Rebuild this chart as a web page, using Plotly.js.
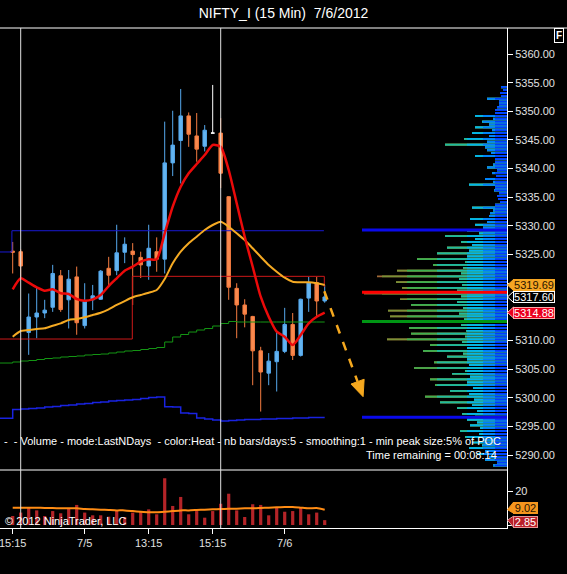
<!DOCTYPE html>
<html><head><meta charset="utf-8">
<script src="https://cdn.plot.ly/plotly-3.0.1.min.js"></script>
<style>html,body{margin:0;padding:0;background:#000;overflow:hidden}#chart{width:567px;height:574px}</style>
</head><body><div id="chart"></div>
<script>
// ---------------- DATA ----------------
const barIdx = [1,2,3,4,5,6,7,8,9,10,11,12,13,14,15,16,17,18,19,20,21,22,23,24,25,26,27,28,29,30,31,32,33,34,35,36,37,38,39,40];
const openP  = [5325.6,5325.5,5311.4,5314.1,5314.8,5315.8,5321.3,5317.1,5321.1,5312.6,5317.1,5317.2,5322.6,5322.2,5325.4,5325.6,5324.5,5323.0,5325.5,5324.2,5341.0,5344.9,5349.2,5345.7,5343.9,5346.2,5346.2,5335.1,5319.1,5316.2,5314.2,5308.2,5304.3,5306.3,5308.1,5312.8,5307.4,5317.4,5320.1,5316.9];
const highP  = [5327.2,5325.9,5318.2,5319.3,5317.1,5323.2,5322.3,5322.3,5322.9,5320.0,5319.7,5322.3,5324.6,5330.2,5328.0,5327.0,5325.5,5330.2,5328.0,5348.2,5350.1,5353.9,5349.8,5349.7,5347.6,5354.6,5348.8,5335.2,5320.0,5317.2,5314.3,5308.9,5307.8,5311.5,5315.7,5314.8,5317.3,5321.1,5321.1,5319.7];
const lowP   = [5321.7,5320.9,5307.5,5310.4,5313.9,5315.0,5315.0,5312.1,5311.0,5312.1,5315.3,5317.1,5319.4,5321.4,5323.5,5316.2,5320.9,5320.6,5322.0,5321.7,5338.7,5337.4,5343.8,5341.2,5343.0,5346.2,5336.6,5317.1,5310.4,5312.3,5302.2,5297.6,5302.2,5301.1,5307.8,5306.6,5307.2,5315.0,5314.2,5316.6];
const closeP = [5325.4,5323.0,5314.1,5314.8,5315.3,5321.7,5315.4,5320.7,5313.1,5316.8,5317.8,5322.1,5321.4,5325.3,5326.8,5325.0,5323.2,5326.1,5324.2,5341.0,5344.1,5349.2,5346.0,5343.4,5346.7,5346.2,5339.2,5319.3,5316.2,5314.6,5308.2,5304.5,5306.4,5308.1,5312.8,5307.4,5317.2,5320.1,5316.9,5317.6];

const redEMA    = [5318.94,5320.86,5320.09,5319.28,5318.69,5318.94,5318.24,5318.12,5317.24,5316.95,5317.19,5317.94,5319.51,5320.86,5322.18,5322.88,5323.75,5324.17,5324.17,5328.71,5333.35,5336.84,5339.18,5340.80,5342.37,5344.12,5343.82,5339.76,5333.94,5328.12,5322.88,5317.64,5314.15,5311.54,5310.66,5309.21,5310.96,5313.00,5314.15,5314.88];
const orangeEMA = [5310.66,5311.66,5311.83,5312.01,5312.13,5312.58,5313.00,5313.58,5313.75,5314.05,5314.45,5314.85,5315.45,5316.20,5316.89,5317.54,5317.94,5318.34,5318.81,5320.73,5323.47,5325.50,5326.96,5328.12,5329.28,5330.16,5330.73,5329.86,5328.71,5327.54,5326.09,5324.62,5323.18,5322.01,5320.96,5320.26,5320.16,5320.16,5319.98,5319.69];

// step lines (first value belongs to the bar before the visible window)
const stepIdx = [-1].concat(barIdx);
const greenLine = [5306.07,5306.25,5306.42,5306.51,5306.68,5306.86,5306.95,5307.12,5307.21,5307.30,5307.47,5307.56,5307.64,5307.82,5307.99,5308.17,5308.25,5308.43,5308.60,5308.78,5309.74,5310.61,5311.05,5311.48,5311.83,5312.09,5312.53,5312.97,5313.32,5313.23,5313.23,5313.23,5313.23,5313.23,5313.23,5313.23,5313.23,5313.23,5313.23,5313.23,5313.23];
const blueLow   = [5296.42,5297.96,5298.05,5298.13,5298.22,5298.39,5298.48,5298.66,5298.74,5298.92,5299.00,5299.18,5299.27,5299.44,5299.53,5299.62,5299.70,5299.88,5300.05,5300.14,5298.45,5298.39,5297.35,5297.26,5296.47,5296.30,5296.13,5295.95,5296.04,5296.13,5296.21,5296.21,5296.30,5296.30,5296.39,5296.39,5296.47,5296.47,5296.56,5296.56,5296.56];

// range boxes (prior levels)
const blueBoxX = [-1, 0.9, 39.9];
const blueBoxY = [5325.45, 5329.16, 5329.16];
const redBoxX  = [-1, 15.95, 39.95];
const redBoxY  = [5310.26, 5321.2, 5319.34];

// drawn arrow: start and tip
const arrowX = [39.95, 44.8];
const arrowY = [5318.6, 5300.2];

// volume panel
const volume = [5.3,7.3,10.6,8.6,5.3,8.2,6.9,9.6,11.8,7.3,5.7,5.7,4.9,8.6,4.7,7.3,7.8,9.2,6.3,27.5,11.2,16.5,6.3,8.2,4.3,8.2,12.5,18.4,8.6,4.7,12.2,11.8,5.7,10.2,7.8,8.2,10.2,6.3,7.3,2.85];
const volAvg = [10.2,10.2,10.2,10.2,10.0,10.0,9.8,9.8,9.8,9.4,9.2,9.0,8.8,8.6,8.6,8.2,7.8,7.5,7.5,7.8,8.2,8.6,8.6,8.8,9.0,9.2,9.4,9.6,9.6,9.8,9.8,10.0,10.2,10.4,10.6,10.6,10.2,9.8,10.0,9.02];

// volume profile (volume at price, arbitrary units)
const profMajorLow = 5288.2, profMinorLow = 5288.7, profStep = 1;
const profMajor = [14,22,30,38,35,42,47,37,40,45,50,67,82,57,72,77,55,93,73,60,84,77,120,96,98,100,117,119,96,107,143,105,111,130,110,74,90,70,60,46,62,40,32,37,17,35,7,10,13,38,22,15,20,12,32,20,62,43,35,32,25,32,12,8,20,7,6];
const profMinor = [10,18,22,25,24,28,27,30,32,30,35,33,38,34,40,37,42,38,40,44,40,45,42,41,46,43,48,44,50,46,50,45,48,46,44,42,40,38,35,32,28,24,20,18,14,12,9,8,12,14,11,10,14,12,16,22,20,18,15,18,14,12,10,8,6,4];
const pocPrice = 5318.4, vahPrice = 5329.3, valPrice = 5296.6, greenLevel = 5313.3;
const pocVolume = 145;

// axis ticks (labels hidden where the reference covers them with price tags)
const priceTicks = [5290,5295,5300,5305,5310,5315,5320,5325,5330,5335,5340,5345,5350,5355,5360];
const priceTickText = ['5290.00','5295.00','5300.00','5305.00','5310.00','','','5325.00','5330.00','5335.00','5340.00','5345.00','5350.00','5355.00','5360.00'];
const xTickBars = [1,10,18,26,35];
const xTickText = ['15:15','7/5','13:15','15:15','7/6'];
const sessionBreaks = [2,27];
const volTicks = [0,20];
const volTickText = ['','20'];

const lastPrice = 5317.60;

// ---------------- STYLE / LAYOUT ----------------
const FONT = 'Arial, "Liberation Sans", sans-serif';
const W=567, H=574, ML=0, MR=60, MT=28, MB=46;
const plotW = W-ML-MR, plotH = H-MT-MB;
const volFrac = 58/plotH;
const pxX = v => v/plotW;             // px -> paper x
const pxY = v => (H-MB - v)/plotH;     // page px -> paper y
const XR = [-0.5875, -0.5875+plotW/8];
const YR = [5287.40, 5364.54];
const pxPerBar = plotW/(XR[1]-XR[0]);
const pxPerPt = (plotH*(1-volFrac))/(YR[1]-YR[0]);
const Y2R = [-1.765, 32.35];
const pxPerVol = (plotH*volFrac)/(Y2R[1]-Y2R[0]);

const UP_FILL='rgb(100,180,240)', UP_LINE='rgb(85,168,236)';
const DN_FILL='rgb(250,138,78)', DN_LINE='rgb(244,124,64)';
const ARROW_C = 'rgb(245,168,30)';

const traces = [];

// volume profile segments (heat colouring by distance from axis)
const segEdges = [12,24,40,70,100,125];
const segColors = ['rgb(0,60,255)','rgb(0,125,255)','rgb(0,180,238)','rgb(30,185,160)','rgb(60,175,80)','rgb(120,145,55)','rgb(160,105,55)'];
const profPrices = profMajor.map((v,i)=>profMajorLow+i*profStep).concat(profMinor.map((v,i)=>profMinorLow+i*profStep));
const profVals = profMajor.concat(profMinor);
for (let s = segColors.length-1; s >= 0; s--) {
  traces.push({type:'bar', orientation:'h', xaxis:'x2', yaxis:'y',
    y: profPrices,
    x: profVals.map(v => s===segColors.length-1 ? v : Math.min(v, segEdges[s])),
    width: 0.3, marker:{color:segColors[s], line:{width:0}}, hoverinfo:'skip', showlegend:false});
}
// profile key levels
[[vahPrice,'rgb(10,10,235)'],[valPrice,'rgb(10,10,235)'],[pocPrice,'rgb(255,0,0)'],[greenLevel,'rgb(0,150,20)']].forEach(([p,c])=>{
  traces.push({type:'scatter', mode:'lines', xaxis:'x2', yaxis:'y', x:[pocVolume,0], y:[p,p],
    line:{color:c, width:3}, hoverinfo:'skip', showlegend:false});
});

// range boxes + step lines
traces.push({type:'scatter', mode:'lines', x:blueBoxX, y:blueBoxY, line:{color:'rgb(25,25,210)', width:1, shape:'hv'}, hoverinfo:'skip'});
traces.push({type:'scatter', mode:'lines', x:redBoxX, y:redBoxY, line:{color:'rgb(205,25,25)', width:1, shape:'hv'}, hoverinfo:'skip'});
traces.push({type:'scatter', mode:'lines', x:stepIdx, y:greenLine, line:{color:'rgb(20,150,20)', width:1, shape:'hv'}, hoverinfo:'skip'});
traces.push({type:'scatter', mode:'lines', x:stepIdx, y:blueLow, line:{color:'rgb(25,35,225)', width:1.5, shape:'hv'}, hoverinfo:'skip'});

// candles
const sel = f => barIdx.map((b,i)=>i).filter(f);
const mk = (ids, incFill, incLine, decFill, decLine) => ({
  type:'candlestick', xaxis:'x', yaxis:'y',
  x: ids.map(i=>barIdx[i]), open: ids.map(i=>openP[i]), high: ids.map(i=>highP[i]),
  low: ids.map(i=>lowP[i]), close: ids.map(i=>closeP[i]),
  increasing:{fillcolor:incFill, line:{color:incLine, width:1}},
  decreasing:{fillcolor:decFill, line:{color:decLine, width:1}},
  whiskerwidth:0, hoverinfo:'skip', showlegend:false});
traces.push(mk(sel(i=>closeP[i]>openP[i]), UP_FILL, UP_LINE, UP_FILL, UP_LINE));
traces.push(mk(sel(i=>closeP[i]<openP[i]), DN_FILL, DN_LINE, DN_FILL, DN_LINE));
traces.push(mk(sel(i=>closeP[i]===openP[i]), '#fff', '#fff', '#fff', '#fff'));

// moving averages
traces.push({type:'scatter', mode:'lines', x:barIdx, y:orangeEMA, line:{color:'rgb(245,170,35)', width:2, shape:'spline', smoothing:0.6}, hoverinfo:'skip'});
traces.push({type:'scatter', mode:'lines', x:barIdx, y:redEMA, line:{color:'rgb(235,10,10)', width:2.5, shape:'spline', smoothing:0.6}, hoverinfo:'skip'});

// dashed arrow: shaft ends at the head base, head is a filled triangle
const ax0 = arrowX[0]*pxPerBar, ay0 = -arrowY[0]*pxPerPt;
const ax1 = arrowX[1]*pxPerBar, ay1 = -arrowY[1]*pxPerPt;
const alen = Math.hypot(ax1-ax0, ay1-ay0);
const ux = (ax1-ax0)/alen, uy = (ay1-ay0)/alen;
const HEAD_L = 16, HEAD_W = 7;
const bx = ax1 - HEAD_L*ux, by = ay1 - HEAD_L*uy;
const toData = (px, py) => [px/pxPerBar, -py/pxPerPt];
const baseC = toData(bx, by);
const v1 = toData(bx - HEAD_W*uy, by + HEAD_W*ux);
const v2 = toData(bx + HEAD_W*uy, by - HEAD_W*ux);
traces.push({type:'scatter', mode:'lines', x:[arrowX[0], baseC[0]], y:[arrowY[0], baseC[1]],
  line:{color:ARROW_C, width:2.5, dash:'dash'}, hoverinfo:'skip'});

// volume panel
traces.push({type:'bar', x:barIdx, y:volume, xaxis:'x', yaxis:'y2', width:0.4, marker:{color:'rgb(180,36,40)', line:{width:0}}, hoverinfo:'skip'});
traces.push({type:'scatter', mode:'lines', x:barIdx, y:volAvg, xaxis:'x', yaxis:'y2', line:{color:'rgb(255,140,20)', width:2, shape:'spline', smoothing:0.6}, hoverinfo:'skip'});

// ---------------- annotations / shapes ----------------
const tickFont = {family:FONT, size:11, color:'rgb(225,225,225)'};
const ann = [];
const shapes = [];
shapes.push({type:'path', xref:'x', yref:'y',
  path:`M ${arrowX[1]},${arrowY[1]} L ${v1[0]},${v1[1]} L ${v2[0]},${v2[1]} Z`,
  fillcolor:ARROW_C, line:{color:ARROW_C, width:1}, layer:'above'});
ann.push({xref:'paper', yref:'paper', x:pxX(2), y:pxY(441), xanchor:'left', yanchor:'middle', showarrow:false,
  text:'-\u00a0\u00a0- Volume - mode:LastNDays\u00a0\u00a0- color:Heat - nb bars/days:5 - smoothing:1 - min peak size:5% of POC',
  font:{family:FONT, size:11, color:'#fff'}});
ann.push({xref:'paper', yref:'paper', x:pxX(499), y:pxY(455), xanchor:'right', yanchor:'middle', showarrow:false,
  text:'Time remaining = 00:08:14', font:{family:FONT, size:11, color:'#fff'}});
ann.push({xref:'paper', yref:'paper', x:pxX(3), y:pxY(521), xanchor:'left', yanchor:'middle', showarrow:false,
  text:'\u00a9 2012 NinjaTrader, LLC', font:{family:FONT, size:11, color:'#fff'}});
ann.push({xref:'paper', yref:'paper', x:pxX(559), y:pxY(35), xanchor:'center', yanchor:'middle', showarrow:false,
  text:'<b>F</b>', font:{family:FONT, size:10, color:'#fff'}, bordercolor:'#fff', borderwidth:1, borderpad:1, bgcolor:'#000'});

function priceTag(val, yref, pxPerUnit, bg, fg, border, txt, w, ysh) {
  const dy = 5.5/pxPerUnit, sh = ysh/pxPerUnit;
  shapes.push({type:'path', xref:'paper', yref:yref,
    path:`M ${pxX(507.5)},${val} L ${pxX(513.5)},${val+sh+dy} L ${pxX(513.5)},${val+sh-dy} Z`,
    fillcolor:bg, line:{color:border, width:1}, layer:'above'});
  ann.push({xref:'paper', yref:yref, x:pxX(513), y:val, yshift:ysh, xanchor:'left', yanchor:'middle', showarrow:false,
    text:txt, font:{family:FONT, size:11, color:fg}, bgcolor:bg, bordercolor:border, borderwidth:1, borderpad:0,
    height:10, width:w, align:'center'});
}
priceTag(orangeEMA[orangeEMA.length-1], 'y', pxPerPt, 'rgb(245,165,35)', 'rgb(40,20,0)', 'rgb(245,165,35)', orangeEMA[orangeEMA.length-1].toFixed(2), 40, 0);
priceTag(lastPrice, 'y', pxPerPt, '#000', '#fff', '#fff', lastPrice.toFixed(2), 40, 0);
priceTag(redEMA[redEMA.length-1], 'y', pxPerPt, 'rgb(235,0,30)', '#fff', 'rgb(255,170,170)', redEMA[redEMA.length-1].toFixed(2), 40, 0);
priceTag(volAvg[volAvg.length-1], 'y2', pxPerVol, 'rgb(245,150,30)', 'rgb(40,20,0)', 'rgb(245,150,30)', volAvg[volAvg.length-1].toFixed(2), 23, 2);
priceTag(volume[volume.length-1], 'y2', pxPerVol, 'rgb(185,30,40)', '#fff', 'rgb(230,150,150)', volume[volume.length-1].toFixed(2), 23, -1.5);

// frame lines
shapes.push({type:'line', xref:'paper', yref:'paper', x0:0, x1:W/plotW, y0:1, y1:1, line:{color:'#fff', width:1}});
shapes.push({type:'line', xref:'paper', yref:'paper', x0:0, x1:1, y0:volFrac, y1:volFrac, line:{color:'#fff', width:1}});
sessionBreaks.forEach(b => shapes.push({type:'line', xref:'x', yref:'paper', x0:b, x1:b, y0:0, y1:1, line:{color:'rgb(225,225,225)', width:1}, layer:'above'}));

const layout = {
  width:W, height:H, margin:{l:ML, r:MR, t:MT, b:MB, pad:0},
  paper_bgcolor:'#000', plot_bgcolor:'#000', showlegend:false, hovermode:false,
  barmode:'overlay', boxgap:0.38,
  title:{text:'NIFTY_I (15 Min)\u00a0\u00a07/6/2012', font:{family:FONT, size:14, color:'#fff'},
    xref:'container', x:0.5, xanchor:'center', yref:'container', y:1-13/H, yanchor:'middle'},
  xaxis:{domain:[0,1], range:XR, anchor:'y2', tickvals:xTickBars, ticktext:xTickText,
    ticks:'outside', ticklen:5, tickcolor:'#fff', tickfont:tickFont, ticklabeloverflow:'allow', showline:true, linecolor:'#fff', linewidth:1,
    showgrid:false, zeroline:false, rangeslider:{visible:false}, fixedrange:true},
  xaxis2:{overlaying:'x', anchor:'y', range:[plotW,0], visible:false, fixedrange:true},
  yaxis:{domain:[volFrac,1], range:YR, side:'right', anchor:'x', tickvals:priceTicks, ticktext:priceTickText,
    ticks:'outside', ticklen:5, tickcolor:'#fff', tickfont:tickFont, showline:true, linecolor:'#fff', linewidth:1,
    showgrid:false, zeroline:false, fixedrange:true},
  yaxis2:{domain:[0,volFrac], range:Y2R, side:'right', anchor:'x', tickvals:volTicks, ticktext:volTickText,
    ticks:'outside', ticklen:5, tickcolor:'#fff', tickfont:tickFont, showline:true, linecolor:'#fff', linewidth:1,
    showgrid:false, zeroline:false, fixedrange:true},
  annotations:ann, shapes:shapes
};
Plotly.newPlot('chart', traces, layout, {staticPlot:true, displayModeBar:false});
</script></body></html>
